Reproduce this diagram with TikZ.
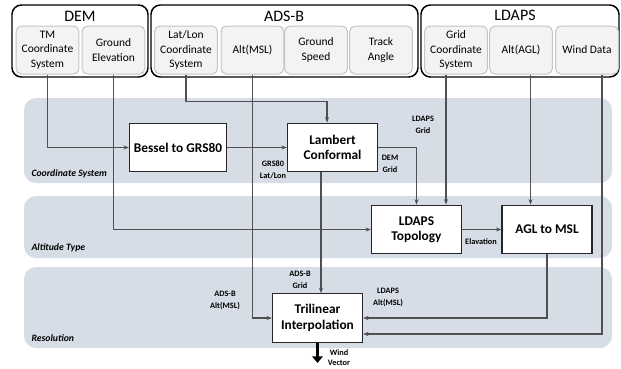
\documentclass[tikz,border=0pt]{standalone}
\usepackage{fontspec}
\setmainfont{Carlito}
\usetikzlibrary{arrows.meta,calc}

\definecolor{bandfill}{RGB}{214,221,231}
\definecolor{boxfill}{RGB}{243,243,243}
\definecolor{boxline}{RGB}{196,196,196}
\definecolor{wire}{RGB}{80,80,80}

\tikzset{every picture/.style={line width=0.75pt}}
\tikzset{
  group/.style={draw=black, line width=1.1pt, rounded corners=7pt},
  grouptitle/.style={inner sep=0.75pt, font=\fontsize{12}{13}\selectfont},
  inbox/.style={draw=boxline, fill=boxfill, rounded corners=4pt, minimum width=47pt, minimum height=36pt, align=center, inner sep=1pt, font=\fontsize{8.6}{11}\selectfont},
  band/.style={fill=bandfill, rounded corners=9pt},
  bandlabel/.style={anchor=west, inner sep=0.75pt, font=\bfseries\itshape\fontsize{7.3}{8}\selectfont},
  proc/.style={draw=black!85, fill=white, line width=0.9pt, minimum width=67.5pt, minimum height=36.5pt, align=center, font=\bfseries\fontsize{10}{11.5}\selectfont},
  tag/.style={inner sep=0.75pt, align=center, font=\bfseries\fontsize{6.2}{9}\selectfont},
  wirearr/.style={draw=wire, line width=0.8pt, -{Stealth[length=4pt,width=3pt]}},
  bigarr/.style={draw=black, line width=2.6pt, -{Triangle[length=5pt,width=8pt]}}
}

\begin{document}
\begin{tikzpicture}[x=0.75pt,y=0.75pt,yscale=-1,xscale=1]
\useasboundingbox (0,0) rectangle (621,368);

%Bands
\fill[band] (24,98) rectangle (612,183);
\fill[band] (24,196) rectangle (612,258);
\fill[band] (24,267) rectangle (612,348);

% Text Node
\node[bandlabel] (lblcs) at (30,174) {Coordinate System};
% Text Node
\node[bandlabel] (lblat) at (30,248) {Altitude Type};
% Text Node
\node[bandlabel] (lblres) at (30,338) {Resolution};

%Groups
\draw[group] (12,5) rectangle (148,77);
\draw[group] (151,5) rectangle (418,77);
\draw[group] (421,5) rectangle (619,77);

% Text Node
\node[grouptitle] (tdem) at (80,16) {DEM};
% Text Node
\node[grouptitle] (tads) at (284,16) {ADS-B};
% Text Node
\node[grouptitle] (tldaps) at (515,15) {LDAPS};

%Inputs
\node[inbox] (tm) at (47.5,50) {TM\\Coordinate\\System};
\node[inbox] (gelev) at (113.5,50) {Ground\\Elevation};
\node[inbox] (latlon) at (186,50) {Lat/Lon\\Coordinate\\System};
\node[inbox] (altmsl) at (252.5,50) {Alt(MSL)};
\node[inbox] (gspeed) at (316,50) {Ground\\Speed};
\node[inbox] (tangle) at (381,50) {Track\\Angle};
\node[inbox] (gridcs) at (456,50) {Grid\\Coordinate\\System};
\node[inbox] (altagl) at (521,50) {Alt(AGL)};
\node[inbox] (wind) at (587,50) {Wind Data};

%Process boxes
\node[proc] (bessel) at (178,147.5) {Bessel to GRS80};
\node[proc] (lambert) at (332.5,147.5) {Lambert\\Conformal};
\node[proc] (topo) at (416.5,229.5) {LDAPS\\Topology};
\node[proc] (agl) at (547,229.5) {AGL to MSL};
\node[proc] (tri) at (317.5,318) {Trilinear\\Interpolation};

%Connector ends
\coordinate (llin) at ($(lambert.north)+(-5.5,0)$);
\coordinate (lamout) at ($(lambert.south)+(-11.5,0)$);
\coordinate (gridin) at ($(topo.north)+(29.5,0)$);
\coordinate (aglin) at ($(agl.north)+(-16.5,0)$);
\coordinate (windx) at ($(wind.south)+(15,0)$);
\coordinate (windin) at ($(tri.east)+(0,16)$);

%Connectors
\draw[wirearr] (tm.south) |- (bessel.west);
\draw[wirearr] (gelev.south) |- (topo.west);
\draw[wirearr] (latlon.south) |- ($(llin)+(0,-21)$) -- (llin);
\draw[wirearr] (altmsl.south) |- (tri.west);
\draw[wirearr] (bessel.east) -- (lambert.west);
\draw[wirearr] (lambert.east) -| (topo.north);
\draw[wirearr] (gridcs.south -| gridin) -- (gridin);
\draw[wirearr] (altagl.south -| aglin) -- (aglin);
\draw[wirearr] (topo.east) -- (agl.west);
\draw[wirearr] (lamout) -- (lamout |- tri.north);
\draw[wirearr] (agl.south) |- (tri.east);
\draw[wirearr] (wind.south -| windx) |- (windin);
\draw[bigarr] (tri.south) -- ++(0,20);

% Text Node
\node[tag] (tgrs) at (273,170) {GRS80\\Lat/Lon};
% Text Node
\node[tag] (tdemgrid) at (390,164) {DEM\\Grid};
% Text Node
\node[tag] (tldgrid) at (423,125) {LDAPS\\Grid};
% Text Node
\node[tag] (telev) at (481,242) {Elavation};
% Text Node
\node[tag] (tadsgrid) at (300,280) {ADS-B\\Grid};
% Text Node
\node[tag] (tadsalt) at (225,300) {ADS-B\\Alt(MSL)};
% Text Node
\node[tag] (tldalt) at (388,297) {LDAPS\\Alt(MSL)};
% Text Node
\node[tag, font=\bfseries\fontsize{6.2}{7.5}\selectfont] (twind) at (339,358) {Wind\\Vector};

\end{tikzpicture}
\end{document}
